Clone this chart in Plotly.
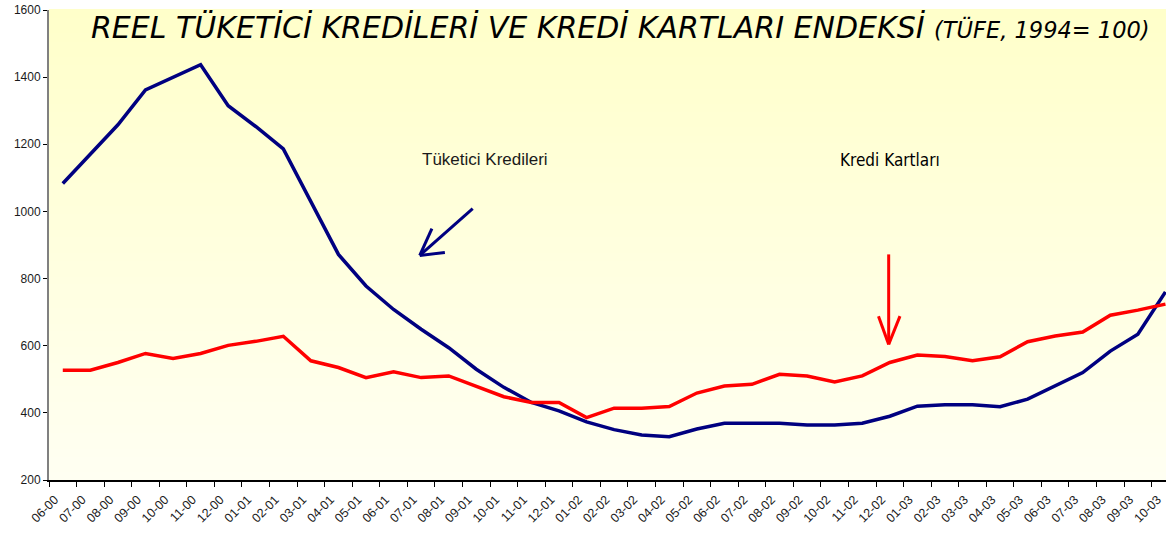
import plotly.graph_objects as go

months = ["06-00", "07-00", "08-00", "09-00", "10-00", "11-00", "12-00",
          "01-01", "02-01", "03-01", "04-01", "05-01", "06-01", "07-01", "08-01",
          "09-01", "10-01", "11-01", "12-01",
          "01-02", "02-02", "03-02", "04-02", "05-02", "06-02", "07-02", "08-02",
          "09-02", "10-02", "11-02", "12-02",
          "01-03", "02-03", "03-03", "04-03", "05-03", "06-03", "07-03", "08-03",
          "09-03", "10-03"]

tuketici_kredileri = [1083, 1170, 1258, 1362, 1400, 1437, 1315,
                      1253, 1186, 1028, 872, 778, 708, 649, 594,
                      530, 476, 431, 406,
                      373, 350, 334, 329, 352, 369, 369, 369,
                      364, 364, 369, 390,
                      420, 424, 424, 418, 441, 480, 520, 584,
                      634, 760]

kredi_kartlari = [527, 527, 550, 577, 562, 577, 601,
                  613, 628, 555, 535, 505, 522, 505, 510,
                  480, 448, 431, 431,
                  386, 414, 414, 419, 459, 480, 485, 515,
                  510, 492, 510, 550,
                  572, 568, 555, 567, 612, 629, 641, 691,
                  706, 724]

y_ticks = [200, 400, 600, 800, 1000, 1200, 1400, 1600]

SANS = "Liberation Sans, Arial, sans-serif"
COND = "DejaVu Sans Condensed, Liberation Sans, sans-serif"
TITLE_FONT = "DejaVu Sans, Verdana, sans-serif"
NAVY = "#000080"
RED = "#FF0000"

fig = go.Figure()
fig.add_trace(go.Scatter(x=months, y=tuketici_kredileri, mode="lines",
                         line=dict(color=NAVY, width=3.5), name="Tüketici Kredileri"))
fig.add_trace(go.Scatter(x=months, y=kredi_kartlari, mode="lines",
                         line=dict(color=RED, width=3.5), name="Kredi Kartları"))

# vertical yellow gradient in plot area
shapes = []
n = 60
top = (255, 255, 202)
bot = (255, 255, 242)
for k in range(n):
    t = k / (n - 1)
    c = tuple(round(bot[j] + (top[j] - bot[j]) * t) for j in range(3))
    shapes.append(dict(type="rect", xref="paper", yref="paper",
                       x0=0, x1=1, y0=k / n, y1=(k + 1) / n + 0.002,
                       fillcolor="rgb(%d,%d,%d)" % c, line=dict(width=0),
                       layer="below"))

# hand-drawn style arrows
def arrow(tail, tip, barbs, color):
    out = [dict(type="line", xref="x", yref="y", x0=tail[0], y0=tail[1],
                x1=tip[0], y1=tip[1], line=dict(color=color, width=3))]
    for b in barbs:
        out.append(dict(type="line", xref="x", yref="y", x0=tip[0], y0=tip[1],
                        x1=b[0], y1=b[1], line=dict(color=color, width=3)))
    return out

shapes += arrow((14.87, 1008), (12.95, 869), [(13.39, 949), (13.86, 878)], NAVY)
shapes += arrow((29.96, 872), (29.96, 604), [(29.59, 688), (30.37, 688)], RED)

fig.update_layout(
    width=1166, height=535,
    margin=dict(l=49, r=0, t=10, b=55),
    paper_bgcolor="white",
    plot_bgcolor="white",
    showlegend=False,
    shapes=shapes,
    font=dict(family=SANS, color="#1a1a1a"),
    xaxis=dict(type="category", range=[-0.5, 40.02], tickson="boundaries",
               ticks="outside", ticklen=5, tickwidth=1, tickcolor="black",
               showline=True, linecolor="black", linewidth=1.5,
               showgrid=False, zeroline=False, tickangle=-45, automargin=False,
               ticklabelshift=-8, ticklabelstandoff=6, ticklabeloverflow="allow",
               tickfont=dict(size=12.5, family=SANS, color="#1a1a1a")),
    yaxis=dict(range=[200, 1600], tickvals=y_ticks, ticks="outside", ticklen=4,
               tickcolor="black", showline=True, linecolor="#808080", linewidth=2,
               showgrid=False, zeroline=False, automargin=False,
               ticklabeloverflow="allow",
               tickfont=dict(size=12, family=SANS, color="#1a1a1a")),
    annotations=[
        dict(xref="paper", yref="paper", x=0.036, y=0.962, xanchor="left",
             yanchor="middle", showarrow=False,
             text="<i>REEL TÜKETİCİ KREDİLERİ VE KREDİ KARTLARI ENDEKSİ "
                  "<span style='font-size:22.5px'>(TÜFE, 1994= 100)</span></i>",
             font=dict(size=30, family=TITLE_FONT, color="black")),
        dict(xref="x", yref="y", x=15.31, y=1154, showarrow=False,
             text="Tüketici Kredileri", font=dict(size=17, family=SANS, color="#1a1a1a")),
        dict(xref="x", yref="y", x=30.02, y=1154, showarrow=False,
             text="Kredi Kartları", font=dict(size=17, family=COND, color="black")),
    ],
)

# remove the default page margin so the figure fills the window from its corner
fig.write_html("out.html",
               config={"displayModeBar": False, "staticPlot": True},
               post_script="document.body.style.margin='0';document.body.style.overflow='hidden';")
